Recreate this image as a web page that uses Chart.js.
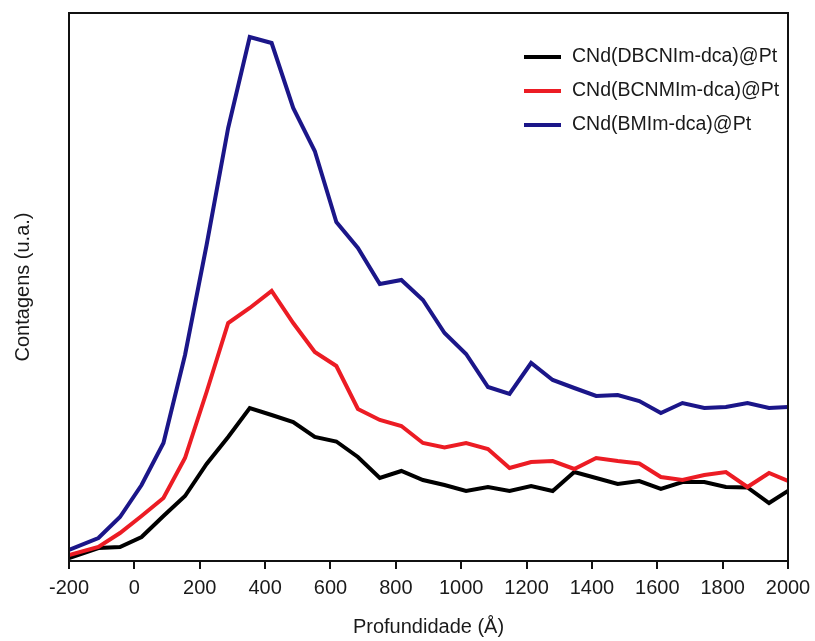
<!doctype html>
<html lang="pt">

<head>
  <meta charset="utf-8">
  <title>perfil de profundidade</title>
  <style>
    body { margin: 0; background: #fff; }
    #chart { display: block; }
  </style>
</head>

<body>
  <canvas id="chart" width="815" height="641"></canvas>

  <script src="https://cdn.jsdelivr.net/npm/chart.js@4/dist/chart.umd.min.js"></script>
  <script>

  // profundidade (Å)
  const depth = [-200, -110, -44, 22, 89, 155, 221, 287, 353, 420, 486, 552, 618, 684, 751, 817, 883,
                 949, 1015, 1082, 1148, 1214, 1280, 1346, 1413, 1479, 1545, 1611, 1677, 1744, 1810, 1876, 1942, 2000];

  // contagens (u.a.)
  const dbcnim = [3, 13, 14, 24, 45, 65, 97, 124, 153, 146, 139, 124, 119.5, 104, 83, 90, 81,
                  76, 70, 74, 70, 75, 70, 89, 83, 77, 80, 72, 79, 79, 74, 73.5, 58, 70];
  const bcnmim = [6, 14, 28, 45, 63, 103, 169, 238, 253, 270, 238, 209, 195, 152, 141, 135, 118,
                  113.5, 118, 112, 93, 99, 100, 92, 103, 100, 97.5, 84, 81, 86, 89, 74, 88, 80];
  const bmim = [11, 23, 44, 76, 118, 206, 316, 433, 524, 518, 453, 410, 339, 313, 277, 281, 261,
                228, 207, 174, 167, 198, 181, 173, 165, 166, 160, 148, 158, 153, 154, 158, 153, 154];

  const xTicks = [-200, 0, 200, 400, 600, 800, 1000, 1200, 1400, 1600, 1800, 2000];

  const names = ['CNd(DBCNIm-dca)@Pt', 'CNd(BCNMIm-dca)@Pt', 'CNd(BMIm-dca)@Pt'];
  const colors = ['#000000', '#ec1c24', '#1b1689'];

  const font = '"Liberation Sans", Arial, sans-serif';

  function pairs(ys) {
    return depth.map((x, i) => ({ x: x, y: ys[i] }));
  }

  // frame around the plot area
  const frame = {
    id: 'frame',
    afterDatasetsDraw(chart) {
      const a = chart.chartArea;
      const ctx = chart.ctx;
      ctx.save();
      ctx.strokeStyle = '#111';
      ctx.lineWidth = 2;
      ctx.strokeRect(a.left, a.top, a.right - a.left, a.bottom - a.top);
      ctx.restore();
    }
  };

  // legend in the upper right corner
  const box = {
    id: 'box',
    afterDraw(chart) {
      const ctx = chart.ctx;
      const rows = [57, 91, 125];
      ctx.save();
      ctx.font = '19.5px ' + font;
      ctx.textBaseline = 'middle';
      ctx.fillStyle = '#1a1a1a';
      names.forEach((name, i) => {
        ctx.strokeStyle = colors[i];
        ctx.lineWidth = 4;
        ctx.beginPath();
        ctx.moveTo(524, rows[i]);
        ctx.lineTo(561, rows[i]);
        ctx.stroke();
        ctx.fillText(name, 572, rows[i]);
      });
      ctx.restore();
    }
  };

  const ctx = document.getElementById('chart').getContext('2d');

  new Chart(ctx, {
    type: 'line',
    data: {
      datasets: [
        { label: names[0], data: pairs(dbcnim), borderColor: colors[0], order: 2 },
        { label: names[1], data: pairs(bcnmim), borderColor: colors[1], order: 0 },
        { label: names[2], data: pairs(bmim), borderColor: colors[2], order: 1 }
      ]
    },
    options: {
      responsive: false,
      animation: false,
      events: [],
      layout: { padding: { top: 13, right: 27, left: 0, bottom: 0 } },
      elements: {
        line: { borderWidth: 4, tension: 0 },
        point: { radius: 0 }
      },
      plugins: {
        legend: { display: false },
        tooltip: { enabled: false }
      },
      scales: {
        x: {
          type: 'linear',
          min: -200,
          max: 2000,
          afterBuildTicks: scale => { scale.ticks = xTicks.map(v => ({ value: v })); },
          afterFit: scale => {
            scale.height = 80;
            scale.paddingLeft = 0;
            scale.paddingRight = 0;
          },
          border: { display: false },
          grid: { drawOnChartArea: false, drawTicks: true, tickLength: 8, color: '#111', lineWidth: 2 },
          ticks: {
            color: '#1a1a1a', padding: 7, maxRotation: 0,
            font: { size: 20, family: font },
            callback: v => String(v)
          },
          title: { display: true, text: 'Profundidade (Å)', color: '#1a1a1a', padding: { top: 0, bottom: 2 }, font: { size: 20, family: font } }
        },
        y: {
          min: 0,
          max: 548,
          afterFit: scale => { scale.width = 69; },
          border: { display: false },
          grid: { display: false },
          ticks: { display: false },
          title: { display: true, text: 'Contagens (u.a.)', color: '#1a1a1a', padding: { top: 11, bottom: 0 }, font: { size: 20, family: font } }
        }
      }
    },
    plugins: [frame, box]
  });
  </script>

</body>
</html>
